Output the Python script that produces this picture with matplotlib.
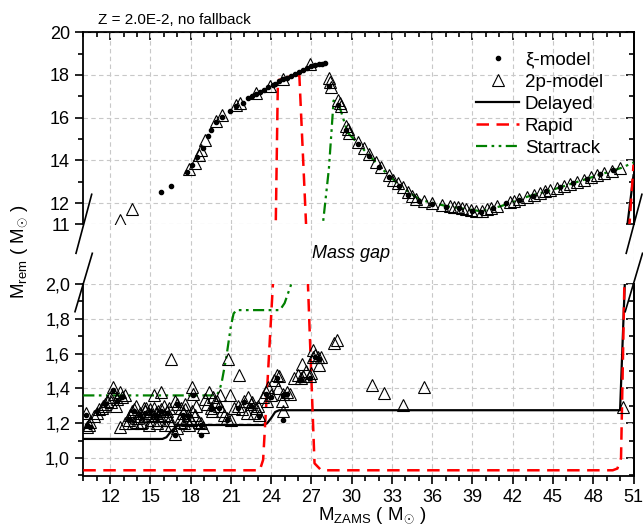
import matplotlib
matplotlib.use('Agg')
import matplotlib.pyplot as plt
from matplotlib.lines import Line2D
from matplotlib.ticker import FuncFormatter

plt.rcParams['font.family'] = ['Liberation Sans', 'DejaVu Sans']
plt.rcParams['mathtext.fontset'] = 'custom'
plt.rcParams['mathtext.rm'] = 'Liberation Sans'
plt.rcParams['mathtext.it'] = 'Liberation Sans:italic'

# xi-model, upper branch
xi_top_m = [15.8, 16.5, 17.75, 18.1, 18.5, 18.9, 19.3, 19.5, 19.9, 20.3, 20.9, 21.4, 21.9,
            22.3, 22.6, 22.9, 23.2, 23.5, 23.8, 24.1, 24.3, 24.6,
            24.9, 25.2, 25.5, 25.8, 26.1, 26.4, 26.7, 27.0, 27.3, 27.6, 27.8, 28.0,
            28.3, 29.0, 29.6, 30.5, 31.3, 32.0, 32.8, 33.5, 34.2, 35.0, 36.0, 37.0, 38.0, 39.0,
            39.6, 40.5, 41.5, 42.5, 43.5, 44.5, 45.5, 46.5, 47.5, 48.5, 49.5]
xi_top_r = [12.5, 12.8, 13.45, 13.8, 14.15, 14.6, 15.15, 15.4, 15.8, 16.05, 16.3, 16.55, 16.7,
            16.9, 17.02, 17.12, 17.22, 17.32, 17.42, 17.52, 17.6, 17.7,
            17.8, 17.85, 17.95, 18.05, 18.15, 18.25, 18.35, 18.4, 18.45, 18.5, 18.53, 18.55,
            17.5, 16.6, 15.4, 14.75, 14.2, 13.7, 13.2, 12.8, 12.4, 12.1, 11.95, 11.82, 11.75, 11.63,
            11.6, 11.78, 11.98, 12.15, 12.35, 12.55, 12.73, 12.92, 13.15, 13.36, 13.55]

# xi-model, lower branch
xi_bot_m = [10.3, 10.5, 10.2, 11.0, 11.6, 12.2, 12.5, 12.9, 13.4, 13.8, 14.2, 14.6, 15.0, 15.4,
            15.8, 16.2, 16.8, 17.0, 17.4, 17.8, 18.2, 18.8, 18.8, 19.5, 20.1, 20.7, 21.5, 22.0,
            22.5, 23.1, 23.6, 24.0, 24.4, 24.9, 24.9, 25.2, 26.2, 26.9, 27.3, 27.6]
xi_bot_r = [1.19, 1.18, 1.25, 1.27, 1.31, 1.39, 1.33, 1.35, 1.22, 1.27, 1.25, 1.26, 1.27, 1.25,
            1.27, 1.26, 1.13, 1.31, 1.25, 1.24, 1.36, 1.19, 1.13, 1.28, 1.29, 1.22, 1.29, 1.32,
            1.30, 1.24, 1.37, 1.35, 1.46, 1.36, 1.22, 1.37, 1.45, 1.46, 1.58, 1.57]

# 2p-model, upper branch
tp_top_m = [12.7, 13.65, 17.9, 18.3, 18.6, 18.75, 19.1, 19.9, 20.3, 21.4, 21.7, 22.9, 23.9, 24.9, 26.9,
            28.3, 28.4, 28.45, 29.0, 29.1, 29.2, 29.6, 29.7, 29.8, 30.5, 30.95, 31.3, 31.8, 32.2,
            32.8, 33.1, 33.45, 33.8, 34.2, 34.5, 34.8, 35.4, 35.95, 36.7, 37.3, 37.6, 37.9, 38.2,
            38.55, 38.9, 39.3, 39.7, 40.05, 40.4, 40.8, 41.8, 42.1, 42.5, 43.1, 43.6, 44.05, 44.4,
            44.8, 45.3, 45.8, 46.3, 46.8, 47.3, 47.8, 48.3, 48.8, 49.4, 50.0]
tp_top_r = [11.2, 11.7, 13.6, 13.9, 14.25, 14.5, 14.95, 15.86, 16.13, 16.6, 16.7, 17.15, 17.47, 17.83, 18.5,
            17.85, 17.65, 17.45, 16.85, 16.7, 16.55, 15.6, 15.45, 15.3, 14.87, 14.56, 14.3, 13.93, 13.7,
            13.3, 13.1, 12.94, 12.75, 12.5, 12.35, 12.2, 12.1, 12.0, 11.9, 11.84, 11.82, 11.8, 11.77,
            11.73, 11.68, 11.62, 11.65, 11.72, 11.78, 11.84, 12.04, 12.1, 12.2, 12.28, 12.38, 12.49, 12.55,
            12.63, 12.7, 12.78, 12.88, 12.98, 13.1, 13.22, 13.32, 13.41, 13.52, 13.62]

# 2p-model, lower branch
tp_bot_m = [10.2, 10.4, 10.3, 10.5, 10.8, 11.0, 11.2, 11.4, 11.6, 11.8, 12.0, 12.2, 12.3, 12.5,
            12.7, 12.9, 13.1, 12.1, 11.5, 12.4, 12.7, 13.1, 13.4,
            13.5, 13.8, 14.0, 14.2, 14.4, 14.6, 14.8, 15.0, 15.2, 15.4, 15.6, 15.8, 16.0, 16.2,
            16.4, 13.7, 14.3, 14.9, 15.5, 16.1, 13.9, 14.7, 15.3, 16.0,
            13.6, 14.1, 14.5, 15.1, 15.7, 16.3, 14.0, 14.8, 15.6, 16.4,
            15.3, 15.8, 16.5, 16.8, 17.0, 16.5, 16.8, 17.0,
            17.2, 17.4, 17.6, 17.8, 18.0, 17.5, 17.9, 18.1, 18.2, 18.4, 18.3, 17.3,
            17.3, 17.7, 18.1, 17.6,
            18.8, 18.9, 18.6, 19.2, 19.5, 19.8, 20.1, 20.3, 19.4, 20.2, 19.7, 20.8, 21.6,
            19.1, 19.6, 20.0,
            20.5, 20.7, 20.9, 21.0, 21.5, 21.8, 22.0, 22.3, 22.5, 22.7, 22.9, 23.1, 22.2,
            21.2, 22.6, 23.0,
            23.4, 23.6, 23.8, 23.7, 24.0, 24.2, 24.4, 24.6, 24.5, 24.9, 25.2, 25.4, 24.8, 24.9,
            25.7, 26.0, 26.2, 26.4, 26.3, 26.6, 26.9, 27.0, 27.1, 27.1, 27.3, 27.5, 27.7, 27.6,
            28.7, 28.9, 31.5, 32.4, 33.8, 35.4, 50.2]
tp_bot_r = [1.26, 1.19, 1.18, 1.21, 1.24, 1.26, 1.28, 1.29, 1.31, 1.33, 1.35, 1.41, 1.37, 1.34,
            1.38, 1.35, 1.36, 1.32, 1.30, 1.30, 1.18, 1.20, 1.22,
            1.25, 1.28, 1.23, 1.26, 1.21, 1.27, 1.24, 1.28, 1.22, 1.26, 1.24, 1.28, 1.25, 1.27,
            1.22, 1.20, 1.20, 1.19, 1.20, 1.19, 1.30, 1.29, 1.29, 1.30,
            1.27, 1.24, 1.29, 1.25, 1.22, 1.24, 1.21, 1.26, 1.27, 1.29,
            1.36, 1.38, 1.57, 1.33, 1.31, 1.19, 1.14, 1.17,
            1.23, 1.26, 1.28, 1.25, 1.22, 1.20, 1.19, 1.41, 1.37, 1.30, 1.25, 1.29,
            1.21, 1.22, 1.27, 1.31,
            1.20, 1.18, 1.21, 1.31, 1.29, 1.32, 1.30, 1.27, 1.38, 1.36, 1.35, 1.57, 1.48,
            1.34, 1.27, 1.33,
            1.25, 1.23, 1.36, 1.22, 1.30, 1.28, 1.33, 1.35, 1.31, 1.26, 1.29, 1.25, 1.26,
            1.29, 1.32, 1.30,
            1.35, 1.38, 1.41, 1.33, 1.36, 1.45, 1.48, 1.47, 1.40, 1.37, 1.38, 1.37, 1.33, 1.27,
            1.46, 1.48, 1.46, 1.47, 1.54, 1.50, 1.47, 1.49, 1.62, 1.58, 1.59, 1.58, 1.58, 1.535,
            1.663, 1.68, 1.42, 1.375, 1.305, 1.406, 1.295]

# prescriptions
del_m = [10.0, 15.9, 16.2, 16.5, 16.9, 17.2, 23.4, 23.7, 24.0, 24.3, 24.6, 50.0, 50.35, 50.55, 51.0]
del_r = [1.11, 1.11, 1.12, 1.15, 1.18, 1.19, 1.19, 1.20, 1.23, 1.265, 1.275, 1.275, 2.0, 11.0, 13.3]

rap_m = [10.0, 23.15, 23.4, 23.7, 24.13, 24.5, 25.0, 25.5, 26.1, 26.6, 26.74, 27.0, 27.23, 27.73,
         49.45, 49.8, 50.07, 50.32, 50.7, 51.0]
rap_r = [0.93, 0.93, 0.99, 1.4, 2.0, 17.75, 17.85, 17.95, 17.97, 11.0, 2.0, 1.45, 0.97, 0.93,
         0.93, 0.94, 1.0, 2.0, 11.0, 13.8]

st_m = [10.0, 19.9, 20.1, 20.3, 20.66, 21.0, 21.2, 21.4, 24.65, 25.0, 25.5, 27.85, 28.3, 28.5, 28.65,
        29.1, 29.7, 30.6, 32.1, 33.6, 35.1, 37.1, 39.6, 41.1, 43.1, 45.1, 47.1, 49.1, 50.1, 51.0]
st_r = [1.36, 1.36, 1.38, 1.43, 1.58, 1.76, 1.83, 1.85, 1.85, 1.89, 2.0, 11.0, 13.6, 15.4, 16.8,
        16.5, 15.3, 14.7, 13.7, 12.8, 12.15, 11.85, 11.62, 11.85, 12.3, 12.65, 13.05, 13.45, 13.65, 13.9]

x_major = list(range(12, 52, 3))
x_minor = list(range(10, 52))
top_major = [11, 12, 14, 16, 18, 20]
top_minor = [13, 15, 17, 19]
bot_major = [1.0, 1.2, 1.4, 1.6, 1.8, 2.0]
bot_minor = [0.9, 1.1, 1.3, 1.5, 1.7, 1.9]

W, H = 643, 529
fig = plt.figure(figsize=(W / 100, H / 100), dpi=100)


def box(l, t, r, b):
    return [l / W, 1 - b / H, (r - l) / W, (b - t) / H]


L, R = 83.3, 633.5
ax_top = fig.add_axes(box(L, 32.3, R, 224.4))
ax_mid = fig.add_axes(box(L, 224.4, R, 284))
ax_bot = fig.add_axes(box(L, 284, R, 475.5))

gridkw = dict(color='#c8c8c8', linestyle='--', linewidth=0.8, dashes=(4, 3))

for ax in (ax_top, ax_bot):
    ax.plot(del_m, del_r, color='black', lw=1.6, zorder=3, label='Delayed')
    ax.plot(rap_m, rap_r, color='#ff0000', lw=1.8, dashes=(5, 3), zorder=3, label='Rapid')
    ax.plot(st_m, st_r, color='#008000', lw=1.6, dashes=(5, 2, 1.2, 2, 1.2, 2), zorder=3,
            label='Startrack')
    ax.plot(xi_top_m + xi_bot_m, xi_top_r + xi_bot_r, 'o', ms=3, color='black', ls='none',
            zorder=4, label='ξ-model')
    ax.plot(tp_top_m + tp_bot_m, tp_top_r + tp_bot_r, '^', ms=8, mfc='none', mec='black',
            mew=0.8, ls='none', zorder=5, label='2p-model')
    ax.set_xlim(10, 51)
    ax.set_xticks(x_major)
    ax.set_xticks(x_minor, minor=True)
    ax.grid(True, which='major', **gridkw)
    ax.set_axisbelow(True)
    for s in ax.spines.values():
        s.set_linewidth(1.3)
    ax.tick_params(which='major', length=6, width=1.2, labelsize=13)
    ax.tick_params(which='minor', length=3.5, width=1.2)

ax_top.set_ylim(11, 20)
ax_top.set_yticks(top_major)
ax_top.set_yticks(top_minor, minor=True)
ax_top.spines['bottom'].set_visible(False)
ax_top.tick_params(axis='x', which='both', bottom=False, labelbottom=False)
ax_top.tick_params(axis='y', which='both', direction='out')

ax_bot.set_ylim(0.9, 2.0)
ax_bot.set_yticks(bot_major)
ax_bot.set_yticks(bot_minor, minor=True)
ax_bot.yaxis.set_major_formatter(FuncFormatter(lambda v, p: f'{v:.1f}'.replace('.', ',')))
ax_bot.spines['top'].set_visible(False)
ax_bot.tick_params(which='both', direction='out')

# mirrored ticks, pointing inward
for ax, maj, mnr in ((ax_top, top_major, top_minor), (ax_bot, bot_major, bot_minor)):
    sr = ax.secondary_yaxis('right')
    sr.set_yticks(maj)
    sr.set_yticks(mnr, minor=True)
    sr.tick_params(which='both', direction='in', labelright=False, width=1.2)
    sr.tick_params(which='major', length=6)
    sr.tick_params(which='minor', length=3.5)
    sr.spines['right'].set_linewidth(1.3)
st = ax_top.secondary_xaxis('top')
st.set_xticks(x_major)
st.set_xticks(x_minor, minor=True)
st.tick_params(which='both', direction='in', labeltop=False, width=1.2)
st.tick_params(which='major', length=6)
st.tick_params(which='minor', length=3.5)

# gap between the two panels
ax_mid.set_xlim(10, 51)
ax_mid.set_ylim(0, 1)
ax_mid.set_xticks(x_major)
ax_mid.set_yticks([])
ax_mid.grid(True, axis='x', **gridkw)
ax_mid.tick_params(length=0, labelbottom=False)
ax_mid.set_facecolor('none')
for s in ax_mid.spines.values():
    s.set_visible(False)
ax_mid.text(27.05, 0.52, 'Mass gap', style='italic', fontsize=13, va='center', ha='left')

# break marks
for dx in (0, R - L):
    for (x0, y0, x1, y1) in ((91.7, 194.3, 76.0, 253.3), (92.3, 253.3, 75.0, 311.7)):
        fig.add_artist(Line2D([(x0 + dx) / W, (x1 + dx) / W], [1 - y0 / H, 1 - y1 / H],
                              color='black', lw=1.2))

h, lab = ax_top.get_legend_handles_labels()
order = [3, 4, 0, 1, 2]
ax_top.legend([h[i] for i in order], [lab[i] for i in order], loc='upper left',
              bbox_to_anchor=(0.714, 0.9), frameon=False, fontsize=13.5, handlelength=2.3,
              handletextpad=0.3, labelspacing=0.26, borderpad=0, borderaxespad=0)

fig.text(98 / W, 1 - 24 / H, 'Z = 2.0E-2, no fallback', fontsize=11, va='baseline')
fig.text(372 / W, 1 - 516 / H, r'M$_{\mathrm{ZAMS}}$ ( M$_{\odot}$ )', fontsize=13.5,
         ha='center', va='center')
fig.text(20 / W, 1 - 252 / H, r'M$_{\mathrm{rem}}$ ( M$_{\odot}$ )', fontsize=13.5,
         ha='center', va='center', rotation=90)

fig.savefig('out.png', dpi=100)
